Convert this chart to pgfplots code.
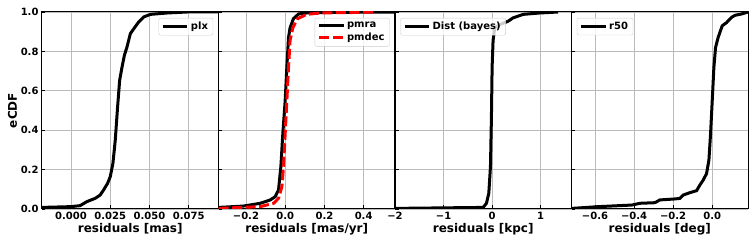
\documentclass[border=0pt]{standalone}
\usepackage{fontspec}
\setmainfont{DejaVu Sans}
\usepackage{pgfplots}
\pgfplotsset{compat=1.18}
\definecolor{gridc}{HTML}{BBBBBB}
\definecolor{legc}{HTML}{CCCCCC}
\pgfplotsset{
 panel/.style={
  scale only axis, width=176.5pt, height=197pt, anchor=south west,
  ymin=0, ymax=1, ytick={0,0.2,0.4,0.6,0.8,1.0}, yticklabels={},
  scaled x ticks=false,
  grid=major, major grid style={gridc, line width=0.75pt},
  tick align=inside, tick pos=left, major tick length=3.5pt,
  tick style={black, line width=0.8pt},
  axis line style={line width=1pt},
  /pgf/number format/assume math mode=true,
  tick label style={font=\bfseries\fontsize{10}{12}\selectfont},
  label style={font=\bfseries\fontsize{12}{14}\selectfont},
  xlabel style={at={(axis description cs:0.5,0)}, anchor=base, yshift=-23.5pt},
  legend style={font=\bfseries\fontsize{10}{12}\selectfont, draw=legc, rounded corners=2pt,
    fill=white, fill opacity=0.8, text opacity=1, inner xsep=3pt, inner ysep=2pt},
  legend cell align=left,
  legend image code/.code={\draw[##1] (0cm,0cm) -- (0.85cm,0cm);},
  cycle list={{black, no marks, line width=3pt},{red, no marks, line width=3pt, dash pattern=on 10pt off 3.5pt}},
 }
}
\begin{document}
\begin{tikzpicture}
\useasboundingbox (0,0) rectangle (756pt,243pt);
% Panel 1
\begin{axis}[panel, at={(42pt,34pt)},
  xmin=-0.0185, xmax=0.094,
  xtick={0,0.025,0.05,0.075}, xticklabels={0.000,0.025,0.050,0.075},
  yticklabels={0.0,0.2,0.4,0.6,0.8,1.0},
  xlabel={residuals [mas]}, ylabel={eCDF},
  ylabel style={at={(axis description cs:-0.167,0.5)}, anchor=center},
  legend style={at={(0.97,0.97)}, anchor=north east}]
\addplot coordinates {(-0.0188,0.008) (0,0.012) (0.0058,0.017) (0.010,0.037) (0.0154,0.054)
 (0.0186,0.071) (0.0207,0.096) (0.0233,0.13) (0.025,0.164) (0.0267,0.231) (0.0282,0.35)
 (0.0297,0.52) (0.031,0.654) (0.0325,0.72) (0.034,0.78) (0.0357,0.823) (0.0378,0.89)
 (0.040,0.915) (0.0432,0.95) (0.0464,0.975) (0.0506,0.988) (0.0613,0.995) (0.074,1.0) (0.094,1.0)};
\addlegendentry{plx}
\end{axis}
% Panel 2
\begin{axis}[panel, at={(218.5pt,34pt)},
  xmin=-0.34, xmax=0.56,
  xtick={-0.2,0,0.2,0.4}, xticklabels={−0.2,0.0,0.2,0.4},
  xlabel={residuals [mas/yr]},
  legend style={at={(0.97,0.97)}, anchor=north east}]
\addplot coordinates {(-0.339,0.008) (-0.212,0.015) (-0.127,0.029) (-0.076,0.046) (-0.051,0.0625)
 (-0.034,0.096) (-0.022,0.215) (-0.012,0.383) (0.0,0.55) (0.0085,0.72) (0.017,0.87) (0.025,0.92)
 (0.042,0.966) (0.068,0.99) (0.127,0.997) (0.56,1.0)};
\addlegendentry{pmra}
\addplot coordinates {(-0.339,0.003) (-0.127,0.012) (-0.059,0.029)
 (-0.034,0.054) (-0.017,0.113) (-0.0085,0.215) (0,0.383) (0.0085,0.55) (0.017,0.72) (0.025,0.856)
 (0.039,0.92) (0.063,0.966) (0.11,0.988) (0.178,0.995) (0.38,0.998) (0.45,1.0)};
\addlegendentry{pmdec}
\end{axis}
% Panel 3
\begin{axis}[panel, at={(395pt,34pt)},
  xmin=-2, xmax=1.635,
  xtick={-2,-1,0,1}, xticklabels={−2,−1,0,1},
  xlabel={residuals [kpc]},
  legend style={at={(0.03,0.97)}, anchor=north west}]
\addplot coordinates {(-2,0.003) (-0.185,0.008) (-0.116,0.029) (-0.068,0.08) (-0.034,0.215)
 (-0.014,0.468) (0,0.72) (0.02,0.856) (0.055,0.92) (0.158,0.936) (0.33,0.953) (0.43,0.97)
 (0.64,0.988) (0.98,0.995) (1.36,1.0)};
\addlegendentry{Dist (bayes)}
\end{axis}
% Panel 4
\begin{axis}[panel, at={(571.5pt,34pt)},
  xmin=-0.72, xmax=0.183,
  xtick={-0.6,-0.4,-0.2,0}, xticklabels={−0.6,−0.4,−0.2,0.0},
  xlabel={residuals [deg]},
  legend style={at={(0.03,0.97)}, anchor=north west}]
\addplot coordinates {(-0.718,0.003) (-0.582,0.012) (-0.412,0.02) (-0.369,0.029) (-0.293,0.032)
 (-0.268,0.046) (-0.191,0.051) (-0.165,0.054) (-0.148,0.071) (-0.114,0.083) (-0.08,0.093)
 (-0.063,0.122) (-0.046,0.147) (-0.029,0.18) (-0.017,0.248) (-0.0085,0.383) (0,0.55)
 (0.0085,0.72) (0.017,0.82) (0.03,0.87) (0.051,0.93) (0.073,0.946) (0.099,0.973) (0.116,0.983)
 (0.15,0.99) (0.184,1.0)};
\addlegendentry{r50}
\end{axis}
\end{tikzpicture}
\end{document}
